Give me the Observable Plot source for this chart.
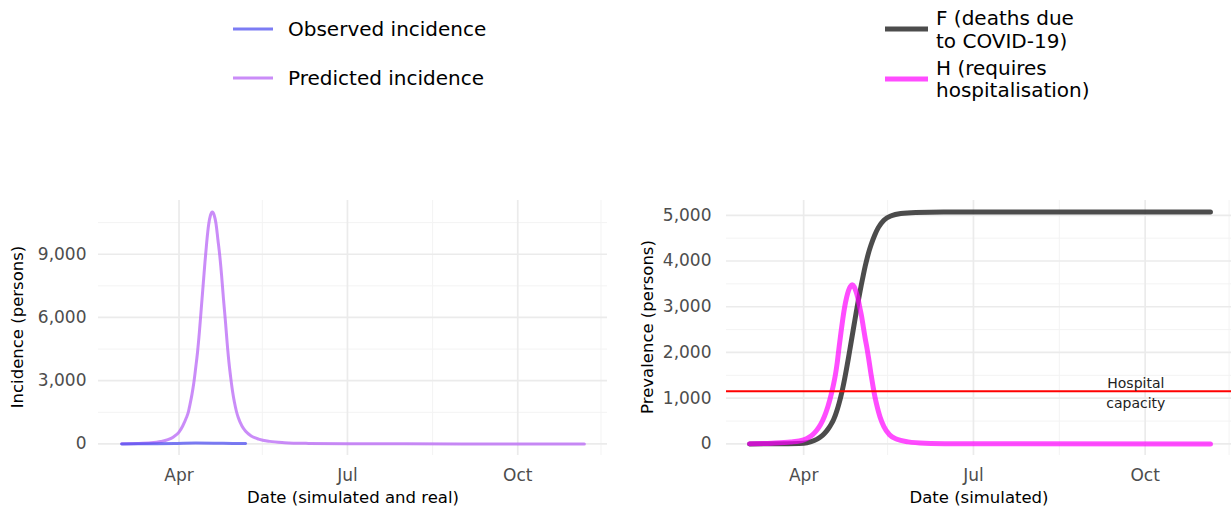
<!DOCTYPE html>
<html>
<head>
<meta charset="utf-8">
<script src="https://cdn.jsdelivr.net/npm/d3@7"></script>
<script src="https://cdn.jsdelivr.net/npm/@observablehq/plot@0.6"></script>
<style>
  html, body { margin: 0; padding: 0; background: white; width: 1231px; height: 509px; overflow: hidden; }
  #root { position: relative; width: 1231px; height: 509px; font-family: "DejaVu Sans", sans-serif; }
  .abs { position: absolute; }
  .title { font-size: 16.5px; color: #000; white-space: nowrap; line-height: 1; }
  .ytitle { transform: translate(-50%, -50%) rotate(-90deg); }
  .xtitle { transform: translate(-50%, -50%); }
</style>
</head>
<body>
<div id="root"></div>
<script>
// ---------------- DATA ----------------
// Left panel: incidence
const predDates = ["2020-03-01","2020-03-10","2020-03-17","2020-03-22","2020-03-26","2020-03-29","2020-04-01","2020-04-03","2020-04-05","2020-04-06","2020-04-07","2020-04-08","2020-04-09","2020-04-10","2020-04-11","2020-04-12","2020-04-13","2020-04-14","2020-04-15","2020-04-16","2020-04-17","2020-04-18","2020-04-19","2020-04-20","2020-04-21","2020-04-22","2020-04-23","2020-04-24","2020-04-25","2020-04-26","2020-04-27","2020-04-28","2020-04-29","2020-04-30","2020-05-01","2020-05-02","2020-05-03","2020-05-05","2020-05-07","2020-05-10","2020-05-14","2020-05-20","2020-05-28","2020-06-10","2020-07-01","2020-08-01","2020-09-01","2020-10-01","2020-11-06"];
const predValues = [10,20,50,110,200,330,560,850,1250,1500,1900,2350,2900,3600,4350,5300,6400,7500,8600,9600,10400,10850,11000,10850,10450,9700,8950,8000,6900,5900,4800,3850,3100,2450,1950,1550,1250,850,600,380,230,120,60,25,8,3,1,0,0];
const obsDates = ["2020-03-01","2020-03-10","2020-03-20","2020-03-31","2020-04-10","2020-04-20","2020-04-30","2020-05-07"];
const obsValues = [0,2,10,25,40,35,25,20];

// Right panel: prevalence
const hDates = ["2020-03-03","2020-03-15","2020-03-25","2020-04-01","2020-04-04","2020-04-06","2020-04-08","2020-04-10","2020-04-12","2020-04-14","2020-04-15","2020-04-16","2020-04-17","2020-04-18","2020-04-19","2020-04-20","2020-04-21","2020-04-22","2020-04-23","2020-04-24","2020-04-25","2020-04-26","2020-04-27","2020-04-28","2020-04-29","2020-04-30","2020-05-01","2020-05-02","2020-05-03","2020-05-04","2020-05-05","2020-05-06","2020-05-07","2020-05-08","2020-05-09","2020-05-10","2020-05-11","2020-05-12","2020-05-14","2020-05-17","2020-05-21","2020-05-27","2020-06-05","2020-06-20","2020-07-15","2020-11-05"];
const hValues = [5,15,40,90,150,210,300,420,590,820,960,1120,1300,1510,1780,2120,2440,2740,3000,3200,3350,3440,3480,3440,3340,3200,3000,2800,2550,2300,2080,1820,1550,1300,1070,880,720,580,380,200,100,45,15,4,1,0];
const fDates = ["2020-03-03","2020-03-20","2020-04-01","2020-04-05","2020-04-08","2020-04-10","2020-04-12","2020-04-14","2020-04-16","2020-04-17","2020-04-18","2020-04-19","2020-04-20","2020-04-21","2020-04-22","2020-04-23","2020-04-24","2020-04-25","2020-04-26","2020-04-27","2020-04-28","2020-04-29","2020-04-30","2020-05-01","2020-05-02","2020-05-03","2020-05-04","2020-05-05","2020-05-06","2020-05-07","2020-05-09","2020-05-11","2020-05-14","2020-05-18","2020-05-23","2020-05-31","2020-06-15","2020-11-05"];
const fValues = [0,3,15,50,100,150,220,320,450,530,630,750,890,1050,1230,1430,1650,1880,2120,2360,2600,2840,3070,3290,3500,3700,3890,4060,4210,4340,4560,4730,4890,4990,5040,5062,5070,5070];
const hospitalCapacity = 1150;

// Axis ticks
const xMajor = ["2020-04-01","2020-07-01","2020-10-01"];
const xMinor = ["2020-05-16","2020-08-16","2020-11-15"];
const yMajorL = [0,3000,6000,9000];
const yMinorL = [1500,4500,7500,10500];
const yMajorR = [0,1000,2000,3000,4000,5000];
const yMinorR = [500,1500,2500,3500,4500];

// Labels
const leftLegend = ["Observed incidence","Predicted incidence"];
const rightLegend = [["F (deaths due","to COVID-19)"],["H (requires","hospitalisation)"]];
const titles = {xl:"Date (simulated and real)", yl:"Incidence (persons)", xr:"Date (simulated)", yr:"Prevalence (persons)"};

// ---------------- BUILD ----------------
const P = d3.utcParse("%Y-%m-%d");
const toRows = (ds, vs) => ds.map((d,i) => ({date: P(d), value: vs[i]}));
const pred = toRows(predDates, predValues);
const obs = toRows(obsDates, obsValues);
const H = toRows(hDates, hValues);
const F = toRows(fDates, fValues);

function expand(lo, hi, f = 0.05) { const r = hi - lo; return [lo - r*f, hi + r*f]; }
function expandDate(a, b) { const [lo, hi] = expand(+a, +b); return [new Date(lo), new Date(hi)]; }

const COL = {obs: "#5050f0", pred: "#b866f5", F: "#333333", H: "#ff00ff", grid: "#ebebeb", minor: "#f3f3f3"};
const xMaj = xMajor.map(P), xMin = xMinor.map(P);

function gridMarks(yMaj, yMin) {
  return [
    Plot.ruleY(yMin, {stroke: COL.minor, strokeWidth: 1}),
    Plot.ruleX(xMin, {stroke: COL.minor, strokeWidth: 1}),
    Plot.ruleY(yMaj, {stroke: COL.grid, strokeWidth: 1.7}),
    Plot.ruleX(xMaj, {stroke: COL.grid, strokeWidth: 1.7})
  ];
}

const common = {
  height: 319, marginTop: 10, marginBottom: 54,
  style: {fontFamily: "DejaVu Sans, sans-serif", fontSize: "17px", color: "#4d4d4d", background: "transparent", overflow: "visible"}
};

const allL = pred.concat(obs);
const left = Plot.plot({
  ...common,
  width: 615, marginLeft: 98, marginRight: 8,
  x: {type: "utc", domain: expandDate(d3.min(allL, d => d.date), d3.max(allL, d => d.date))},
  y: {domain: expand(0, d3.max(allL, d => d.value))},
  marks: [
    ...gridMarks(yMajorL, yMinorL),
    Plot.axisX({ticks: xMaj, tickFormat: d3.utcFormat("%b"), tickSize: 0, tickPadding: 13, label: null}),
    Plot.axisY({ticks: yMajorL, tickFormat: d3.format(","), tickSize: 0, tickPadding: 12, label: null}),
    Plot.line(pred, {x: "date", y: "value", stroke: COL.pred, strokeWidth: 3, strokeOpacity: 0.75, curve: "monotone-x"}),
    Plot.line(obs, {x: "date", y: "value", stroke: COL.obs, strokeWidth: 3, strokeOpacity: 0.75, curve: "monotone-x"})
  ]
});

const allR = H.concat(F);
const right = Plot.plot({
  ...common,
  width: 613, marginLeft: 106, marginRight: 0,
  x: {type: "utc", domain: expandDate(d3.min(allR, d => d.date), d3.max(allR, d => d.date))},
  y: {domain: expand(0, d3.max(allR, d => d.value))},
  marks: [
    ...gridMarks(yMajorR, yMinorR),
    Plot.axisX({ticks: xMaj, tickFormat: d3.utcFormat("%b"), tickSize: 0, tickPadding: 13, label: null}),
    Plot.axisY({ticks: yMajorR, tickFormat: d3.format(","), tickSize: 0, tickPadding: 15, label: null}),
    Plot.line(F, {x: "date", y: "value", stroke: COL.F, strokeWidth: 5, strokeOpacity: 0.88, curve: "monotone-x"}),
    Plot.line(H, {x: "date", y: "value", stroke: COL.H, strokeWidth: 5, strokeOpacity: 0.7, curve: "monotone-x"}),
    Plot.ruleY([hospitalCapacity], {stroke: "#ff0000", strokeWidth: 2}),
    Plot.text([hospitalCapacity], {x: P("2020-09-26"), y: d => d, text: () => "Hospital\ncapacity", fontSize: 14, fill: "#222", lineHeight: 1.45, textAnchor: "middle"})
  ]
});

const root = document.getElementById("root");
function place(el, l, t) { el.style.position = "absolute"; el.style.left = l + "px"; el.style.top = t + "px"; root.appendChild(el); }
place(left, 0, 190);
place(right, 620, 190);

function addText(txt, x, y, cls) {
  const d = document.createElement("div");
  d.className = "abs title " + cls;
  d.textContent = txt;
  d.style.left = x + "px"; d.style.top = y + "px";
  root.appendChild(d);
}
addText(titles.yl, 18, 327, "ytitle");
addText(titles.xl, 353, 498, "xtitle");
addText(titles.yr, 648, 327, "ytitle");
addText(titles.xr, 979, 498, "xtitle");

// Legends
const ns = "http://www.w3.org/2000/svg";
const lg = document.createElementNS(ns, "svg");
lg.setAttribute("width", 1231); lg.setAttribute("height", 110);
lg.style.position = "absolute"; lg.style.left = "0px"; lg.style.top = "0px";
lg.style.fontFamily = "DejaVu Sans, sans-serif";
function sline(x1, x2, y, stroke, w, op) {
  const l = document.createElementNS(ns, "line");
  l.setAttribute("x1", x1); l.setAttribute("x2", x2); l.setAttribute("y1", y); l.setAttribute("y2", y);
  l.setAttribute("stroke", stroke); l.setAttribute("stroke-width", w); l.setAttribute("stroke-opacity", op);
  lg.appendChild(l);
}
function stext(x, y, s) {
  const t = document.createElementNS(ns, "text");
  t.setAttribute("x", x); t.setAttribute("y", y); t.setAttribute("dy", "0.35em");
  t.setAttribute("font-size", "20px"); t.setAttribute("fill", "#000");
  t.textContent = s; lg.appendChild(t);
}
sline(233, 273, 29, COL.obs, 3, 0.75); stext(288, 29, leftLegend[0]);
sline(233, 273, 78, COL.pred, 3, 0.75); stext(288, 78, leftLegend[1]);
sline(885, 928, 29, COL.F, 5, 0.88); stext(936, 18, rightLegend[0][0]); stext(936, 41, rightLegend[0][1]);
sline(885, 928, 79, COL.H, 5, 0.7); stext(936, 68, rightLegend[1][0]); stext(936, 90, rightLegend[1][1]);
root.appendChild(lg);
</script>
</body>
</html>
